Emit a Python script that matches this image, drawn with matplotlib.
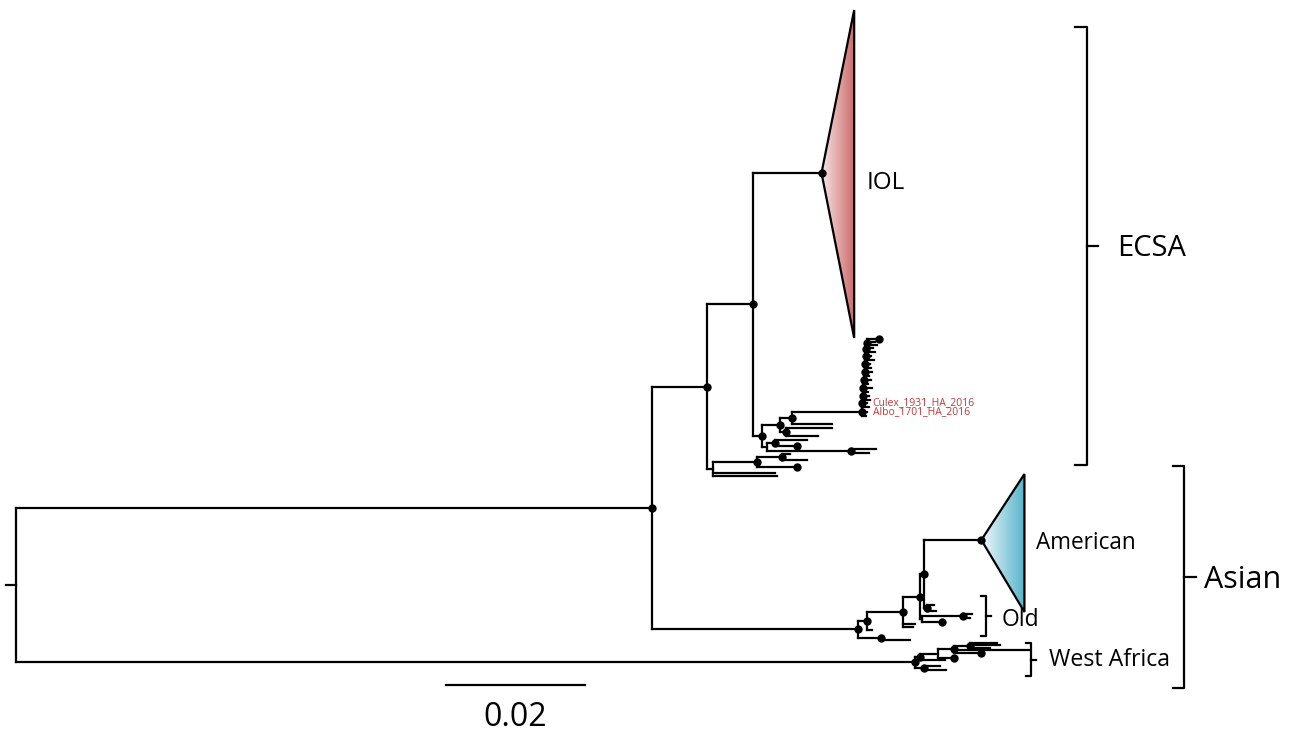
import numpy as np
import matplotlib.pyplot as plt
from matplotlib.collections import LineCollection
from matplotlib.colors import LinearSegmentedColormap
from matplotlib.patches import Polygon

# --- tree data (branch lengths in substitutions/site, tip rows) ---
node_id = ['n1', 'n2', 'n3', 'IOL', 'a0', 'a1', 'a2', 'a2_t', 'a3', 'a3_t1', 'a3_t2',
           'a5', 'a6', 'a6_t1', 'a6_t2', 'a7', 'a7_t1', 'a7_t2',
           'b0', 'b0_t1', 'b0_t2', 'b1', 'b1_t', 'b2', 'b2_t1', 'b2_t2',
           'n4', 'p1', 'n5', 'n6', 'am0', 'American', 'o1', 'o1_t1', 'o1_t2',
           'o2', 'o3', 'o3_t1', 'o3_t2', 'o2_t', 'n5_t1', 'n5_t2', 'p1_t',
           'p2', 'p2_t1', 'p2_t2',
           'WA', 'w1', 'w2', 'w3', 'w4', 'w4_t1', 'w4_t2', 'w4_t3', 'w3_t1', 'w3_t2',
           'w2_t', 'w1_t', 'w5', 'w5_t1', 'w5_t2']
node_parent = ['root', 'n1', 'n2', 'n3', 'n3', 'a0', 'a1', 'a2', 'a1', 'a3', 'a3',
               'a0', 'a5', 'a6', 'a6', 'a5', 'a7', 'a7',
               'n2', 'b0', 'b0', 'b0', 'b1', 'b1', 'b2', 'b2',
               'n1', 'n4', 'p1', 'n5', 'n6', 'am0', 'am0', 'o1', 'o1',
               'n6', 'o2', 'o3', 'o3', 'o2', 'n5', 'n5', 'p1',
               'n4', 'p2', 'p2',
               'root', 'WA', 'w1', 'w2', 'w3', 'w4', 'w4', 'w4', 'w3', 'w3',
               'w2', 'w1', 'WA', 'w5', 'w5']
branch_len = [0.0915, 0.0079, 0.0066, 0.0099, 0.0013, 0.0026, 0.0017, 0.0058, 0.0009, 0.0066, 0.0046,
              0.0007, 0.0012, 0.0046, 0.0032, 0.0122, 0.0036, 0.0026,
              0.0009, 0.0089, 0.0092, 0.0063, 0.0058, 0.0036, 0.0012, 0.0036,
              0.0296, 0.0013, 0.0052, 0.0024, 0.0007, 0.0082, 0.0004, 0.0010, 0.0013,
              0.0004, 0.0058, 0.0014, 0.0010, 0.0029, 0.0017, 0.0014, 0.0007,
              0.0033, 0.0004, 0.0042,
              0.1294, 0.0007, 0.0026, 0.0022, 0.0024, 0.0039, 0.0043, 0.0029, 0.0108, 0.0039,
              0.0022, 0.0036, 0.0012, 0.0024, 0.0032]
tip_row = [None, None, None, 173, None, None, None, 424, None, 428, 436,
           None, None, 440, 446, None, 449, 453,
           None, 473, 476, None, 467, None, 454, 460,
           None, None, None, None, None, 540, None, 605, 611,
           None, None, 614, 618, 622, 624, 627, 630,
           None, 636, 640,
           None, None, None, None, None, 643, 645, 648, 650, 653,
           658, 660, None, 666, 670]

# nodes carrying a support dot
dotted = ['n1', 'n2', 'n3', 'IOL', 'a0', 'a1', 'a2', 'a3', 'a6', 'a6_t2', 'a7', 'b1', 'b1_t', 'b2',
          'n4', 'p1', 'n5', 'n6', 'am0', 'American', 'o1', 'o3', 'o2_t', 'p2',
          'WA', 'w1', 'w3', 'w4', 'w3_t2', 'w2_t', 'w5']

# Culex/Albo cluster (ladder-like clade hanging from a2)
culex_stem = 0.0101
culex_rows = [339, 342, 345, 348, 352, 356, 360, 364, 368, 372, 376, 380, 384, 388,
              392, 396, 400, 403, 407, 412, 416]
culex_len = [0.0017, 0.0012, 0.0014, 0.0009, 0.0013, 0.0007, 0.0012, 0.0006, 0.0009, 0.0010,
             0.0007, 0.0009, 0.0006, 0.0012, 0.0007, 0.0009, 0.0010, 0.0006, 0.0009, 0.0007, 0.0006]
culex_labels = {403: 'Culex_1931_HA_2016', 412: 'Albo_1701_HA_2016'}

# collapsed clades
collapsed = ['IOL', 'American']
collapsed_depth = [0.0047, 0.0062]
collapsed_span = [(10, 338), (474, 612)]
collapsed_colors = [('#f6e4e4', '#cb6868'), ('#f2f9fb', '#56b3ca')]

root_stub = 0.0014
scale_len = 0.02

# --- build tree ---
parent = dict(zip(node_id, node_parent))
blen = dict(zip(node_id, branch_len))
row = {n: r for n, r in zip(node_id, tip_row) if r is not None}

prev = 'a2'
n_c = len(culex_rows)
for k in range(n_c - 1):
    cid = f'c{k}'
    parent[cid] = prev
    blen[cid] = culex_stem if k == 0 else 0.00004
    tid = f'ct{n_c - 1 - k}'
    parent[tid] = cid
    blen[tid] = culex_len[n_c - 1 - k]
    row[tid] = culex_rows[n_c - 1 - k]
    if k % 2 == 0:
        dotted.append(cid)
    prev = cid
parent['ct0'] = prev
blen['ct0'] = culex_len[0]
row['ct0'] = culex_rows[0]
dotted.append('ct0')

children = {}
for n, p in parent.items():
    children.setdefault(p, []).append(n)

xpos = {'root': 0.0}
def get_x(n):
    if n not in xpos:
        xpos[n] = get_x(parent[n]) + blen[n]
    return xpos[n]

ypos = {}
def get_y(n):
    if n not in ypos:
        if n in row:
            ypos[n] = row[n]
        else:
            ys = [get_y(c) for c in children[n]]
            ypos[n] = (min(ys) + max(ys)) / 2
    return ypos[n]

all_nodes = ['root'] + list(parent.keys())
for n in all_nodes:
    get_x(n)
    get_y(n)

# --- figure ---
PX = 6950.0   # pixels per unit of distance
def px(x):
    return (x - 16) / PX

fig = plt.figure(figsize=(13, 7.32), dpi=100)
ax = fig.add_axes([0, 0, 1, 1])
ax.axis('off')

segs = []
for n in parent:
    p = parent[n]
    segs.append([(xpos[p], ypos[n]), (xpos[n], ypos[n])])
for n, ch in children.items():
    ys = [ypos[c] for c in ch]
    segs.append([(xpos[n], min(ys)), (xpos[n], max(ys))])
segs.append([(-root_stub, ypos['root']), (0, ypos['root'])])
ax.add_collection(LineCollection(segs, colors='black', linewidths=1.6,
                                 capstyle='projecting', zorder=3))

dx = [xpos[n] for n in dotted]
dy = [ypos[n] for n in dotted]
ax.plot(dx, dy, 'o', color='black', ms=5, zorder=4)

# collapsed clade wedges with gradient fill
grad = np.linspace(0, 1, 256).reshape(1, -1)
for name, depth, (top, bot), (c0, c1) in zip(collapsed, collapsed_depth,
                                             collapsed_span, collapsed_colors):
    x0, y0 = xpos[name], ypos[name]
    tri = Polygon([[x0, y0], [x0 + depth, top], [x0 + depth, bot]], closed=True,
                  facecolor='none', edgecolor='black', lw=1.6, zorder=3)
    ax.add_patch(tri)
    cmap = LinearSegmentedColormap.from_list(name, [c0, c1])
    im = ax.imshow(grad, cmap=cmap, extent=[x0, x0 + depth, bot, top],
                   aspect='auto', interpolation='bicubic', zorder=2)
    im.set_clip_path(tri)

# red tip labels
for r, lab in culex_labels.items():
    ax.text(xpos['c0'] + px(27) - px(16), r, lab, color='#c0393b', fontsize=7.5,
            family='Open Sans', va='center', ha='left')

font = 'Open Sans'
ax.text(px(867), 183, 'IOL', fontsize=17.5, family=font, va='center')
ax.text(px(1036), 543, 'American', fontsize=16.3, family=font, va='center')
ax.text(px(1002), 620, 'Old', fontsize=16.5, family=font, va='center')
ax.text(px(1049), 660, 'West Africa', fontsize=16.7, family=font, va='center')
ax.text(px(1117), 248, 'ECSA', fontsize=21, family=font, va='center')
ax.text(px(1204), 580, 'Asian', fontsize=22, family=font, va='center')

def bracket(x, top, bot, hook, tick):
    mid = (top + bot) / 2
    ax.plot([px(x - hook), px(x), px(x), px(x - hook)], [top, top, bot, bot],
            color='black', lw=1.6, solid_joinstyle='round')
    ax.plot([px(x), px(x + tick)], [mid, mid], color='black', lw=1.6)

bracket(1087, 27, 465, 12, 11)
bracket(1184, 466, 688, 11, 12)
bracket(986, 596, 636, 5, 5)
bracket(1031, 643, 676, 5, 5)

# scale bar
sx = px(446)
ax.plot([sx, sx + scale_len], [685, 685], color='black', lw=1.6)
ax.text(sx + scale_len / 2, 717, '0.02', fontsize=23, family=font, ha='center', va='center')

ax.set_xlim(px(0), px(1300))
ax.set_ylim(732, 0)

fig.savefig('out.png', dpi=100)
plt.close(fig)
